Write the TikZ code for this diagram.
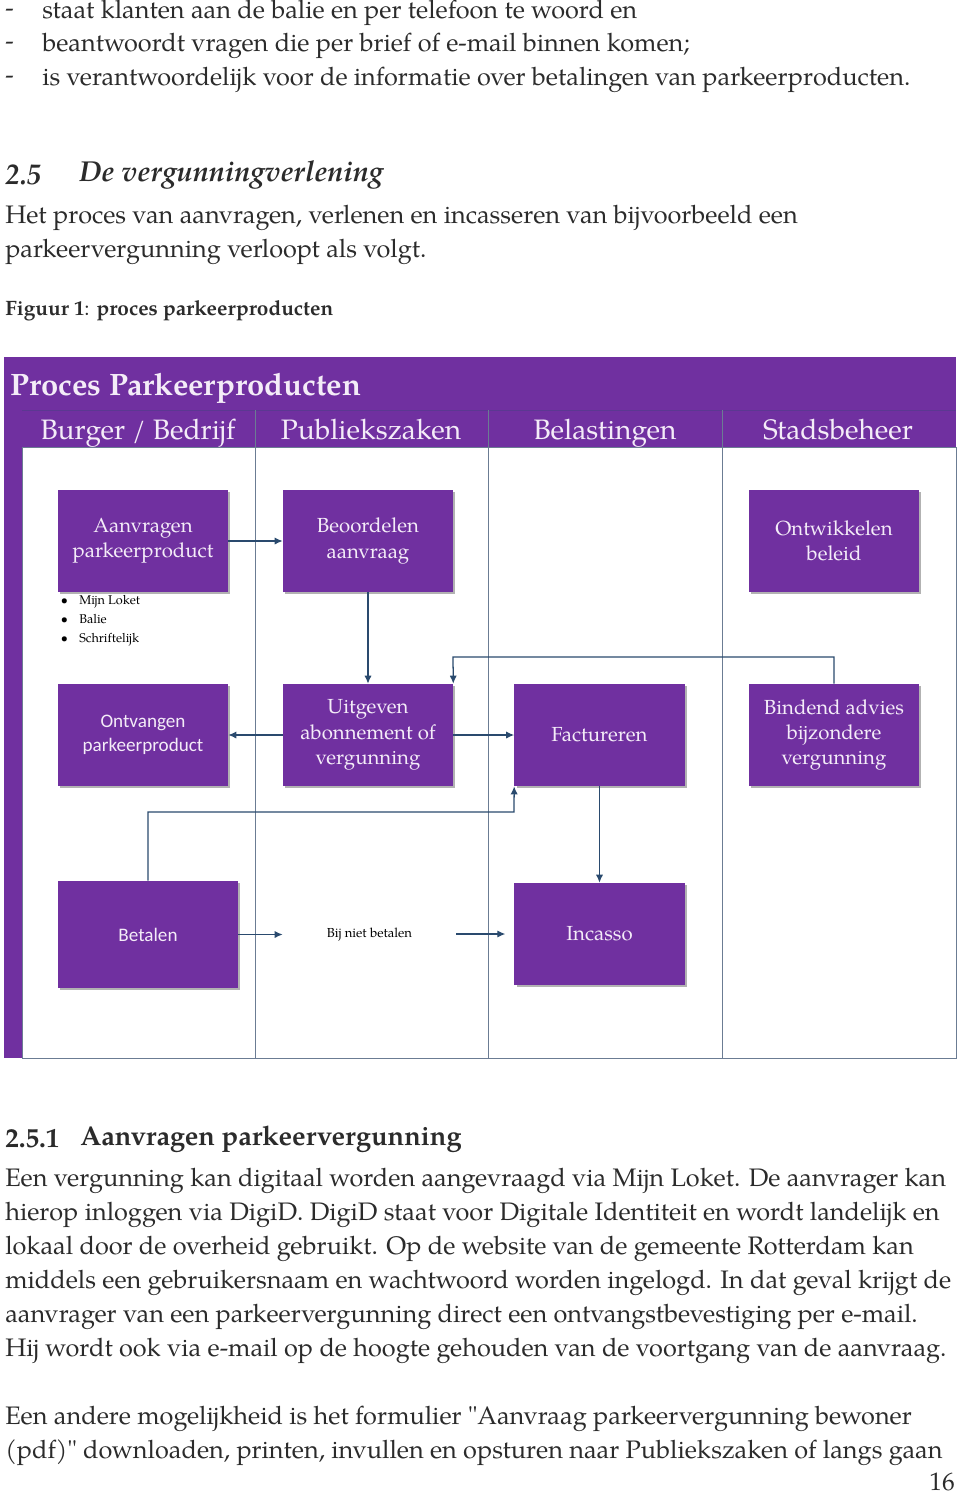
\documentclass[tikz,border=0pt]{standalone}
\usepackage{fontspec}
\setmainfont{TeX Gyre Pagella}
\newfontfamily\calibrifont{Carlito}
\usetikzlibrary{shadows,arrows.meta}

\definecolor{procpurple}{HTML}{7030A0}
\definecolor{flowblue}{HTML}{2A4A6E}
\definecolor{lanegray}{HTML}{6B7C93}
\definecolor{boxtext}{HTML}{F4ECF8}
\definecolor{bodytext}{HTML}{2B2B2B}

\tikzset{
  box/.style={fill=procpurple, text=boxtext, align=center,
    minimum width=4.25cm, minimum height=2.55cm, inner sep=2pt,
    font=\fontsize{14.5}{18}\selectfont,
    drop shadow={shadow xshift=0.6mm, shadow yshift=-0.6mm, fill=black, opacity=0.3}},
  flow/.style={draw=flowblue, line width=0.9pt, -{Latex[length=2mm,width=1.8mm]}},
  lane/.style={draw=lanegray, line width=0.6pt},
  lanehead/.style={anchor=base, text=boxtext, font=\fontsize{20}{24}\selectfont},
  body/.style={anchor=west, inner sep=0pt, text=bodytext, font=\fontsize{18}{21}\selectfont}
}

\begin{document}
\begin{tikzpicture}[x=0.025cm, y=-0.025cm]
\useasboundingbox (0,0) rectangle (960,1495);

% tekst boven de figuur
\node[body] (dash1) at (5,13) {-};
\node[body] (item1) at (42,13) {staat klanten aan de balie en per telefoon te woord en};
\node[body] (dash2) at (5,46) {-};
\node[body] (item2) at (42,46) {beantwoordt vragen die per brief of e-mail binnen komen;};
\node[body] (dash3) at (5,80) {-};
\node[body] (item3) at (42,80) {is verantwoordelijk voor de informatie over betalingen van parkeerproducten.};

\node[body, font=\fontsize{20.5}{24}\selectfont\bfseries\itshape] (secnum) at (5,175) {2.5};
\node[body, font=\fontsize{20.5}{24}\selectfont\bfseries\itshape] (sectitle) at (79,175) {De vergunningverlening};
\node[body] (intro1) at (5,218) {Het proces van aanvragen, verlenen en incasseren van bijvoorbeeld een};
\node[body] (intro2) at (5,252) {parkeervergunning verloopt als volgt.};
\node[body, font=\fontsize{14.8}{17}\selectfont] (figcap) at (5,311) {\textbf{Figuur 1}: \textbf{proces parkeerproducten}};

% kader en banen
\fill[procpurple] (4,357) rectangle (956,447);
\fill[procpurple] (4,447) rectangle (22,1058);
\draw[lane, fill=white] (22,447) rectangle (956,1058);
\draw[procpurple!70!flowblue, line width=0.5pt] (22,410) -- (956,410);
\draw[lane] (255,410) -- (255,1058);
\draw[lane] (488,410) -- (488,1058);
\draw[lane] (722,410) -- (722,1058);

\node[anchor=base west, inner sep=0pt, text=boxtext, font=\fontsize{22}{26}\selectfont\bfseries] (proctitle) at (10,395) {Proces Parkeerproducten};
\node[lanehead] (laneburger) at (138,439) {Burger / Bedrijf};
\node[lanehead] (lanepz) at (371,439) {Publiekszaken};
\node[lanehead] (lanebel) at (605,439) {Belastingen};
\node[lanehead] (lanesb) at (838,439) {Stadsbeheer};

% processtappen
\node[box] (aanvragen) at (143,541) {Aanvragen\\parkeerproduct};
\node[box] (beoordelen) at (368,541) {Beoordelen\\aanvraag};
\node[box] (ontwikkelen) at (834,541) {Ontwikkelen\\beleid};
\node[box, font=\calibrifont\fontsize{13.6}{17.5}\selectfont] (ontvangen) at (143,735) {Ontvangen\\parkeerproduct};
\node[box] (uitgeven) at (368,735) {Uitgeven\\abonnement of\\vergunning};
\node[box] (factureren) at (599.5,735) {Factureren};
\node[box] (bindend) at (834,735) {Bindend advies\\bijzondere\\vergunning};
\node[box, minimum width=4.5cm, minimum height=2.675cm, font=\calibrifont\fontsize{13.6}{17.5}\selectfont] (betalen) at (148,934.5) {Betalen};
\node[box] (incasso) at (599.5,934) {Incasso};

\node[anchor=west, align=left, text=black, font=\fontsize{9}{13.5}\selectfont] (kanalen) at (56,621)
  {\textbullet\hspace{8pt}Mijn Loket\\\textbullet\hspace{8pt}Balie\\\textbullet\hspace{8pt}Schriftelijk};
\node[text=black, font=\fontsize{9.3}{11}\selectfont, inner sep=0pt, minimum width=4.325cm, minimum height=0.4cm] (nietbetalen) at (369.5,935) {Bij niet betalen};

% verbindingen
\coordinate (adviesbend) at (453,657);
\coordinate (betaalbend) at (514,812);
\draw[flow] (aanvragen) -- (beoordelen);
\draw[flow] (beoordelen) -- (uitgeven);
\draw[flow] (uitgeven) -- (ontvangen);
\draw[flow] (uitgeven) -- (factureren);
\draw[flow] (bindend.north) |- (adviesbend) -- (uitgeven.north east);
\draw[flow] (betalen.north) |- (betaalbend) -- (factureren.south west);
\draw[flow] (factureren) -- (incasso);
\draw[flow] (betalen.east) -- (nietbetalen.west |- betalen.east);
\draw[flow, shorten >=7\pgflinewidth] (nietbetalen.east |- incasso.west) -- (incasso.west);

% tekst onder de figuur
\node[body, font=\fontsize{19.3}{23}\selectfont\bfseries] (subnum) at (5,1139) {2.5.1};
\node[body, font=\fontsize{19.3}{23}\selectfont\bfseries] (subtitle) at (80,1139) {Aanvragen parkeervergunning};
\node[body] (par1) at (5,1181) {Een vergunning kan digitaal worden aangevraagd via Mijn Loket. De aanvrager kan};
\node[body] (par2) at (5,1215) {hierop inloggen via DigiD. DigiD staat voor Digitale Identiteit en wordt landelijk en};
\node[body] (par3) at (5,1249) {lokaal door de overheid gebruikt. Op de website van de gemeente Rotterdam kan};
\node[body] (par4) at (5,1283) {middels een gebruikersnaam en wachtwoord worden ingelogd. In dat geval krijgt de};
\node[body] (par5) at (5,1317) {aanvrager van een parkeervergunning direct een ontvangstbevestiging per e-mail.};
\node[body] (par6) at (5,1351) {Hij wordt ook via e-mail op de hoogte gehouden van de voortgang van de aanvraag.};
\node[body] (par7) at (5,1419) {Een andere mogelijkheid is het formulier \textquotedbl Aanvraag parkeervergunning bewoner};
\node[body] (par8) at (5,1453) {(pdf)\textquotedbl{} downloaden, printen, invullen en opsturen naar Publiekszaken of langs gaan};
\node[body, anchor=east] (pagenum) at (955,1482) {16};
\end{tikzpicture}
\end{document}
